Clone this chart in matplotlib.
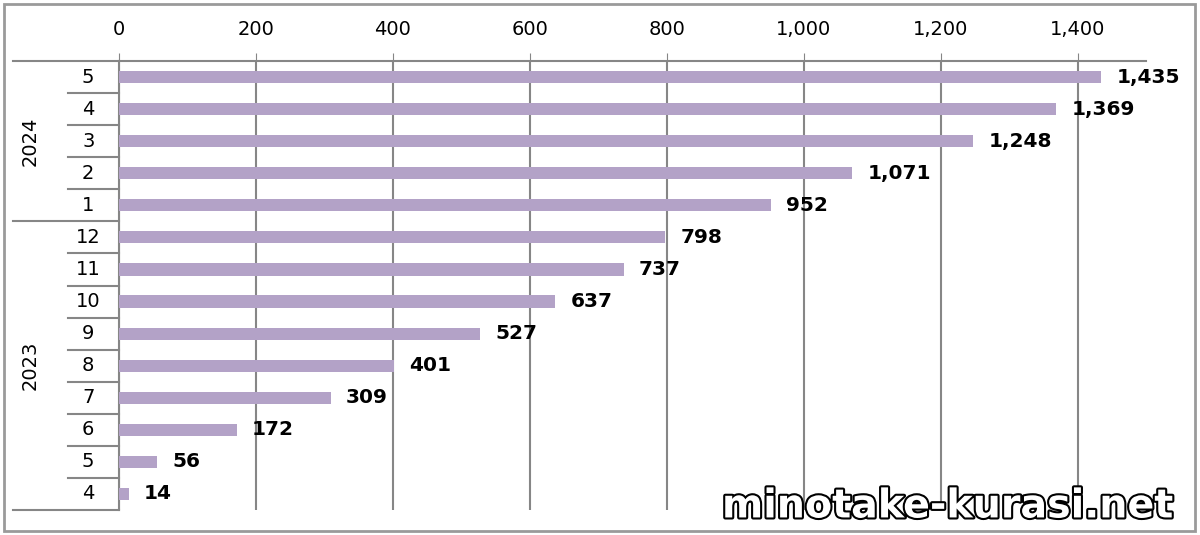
import matplotlib.pyplot as plt
import matplotlib.patheffects as pe
from matplotlib.patches import Rectangle
from matplotlib.transforms import blended_transform_factory

# monthly values, oldest first
years = ['2023', '2024']
months = [['4', '5', '6', '7', '8', '9', '10', '11', '12'],
          ['1', '2', '3', '4', '5']]
values = [14, 56, 172, 309, 401, 527, 637, 737, 798,
          952, 1071, 1248, 1369, 1435]
xticks = [0, 200, 400, 600, 800, 1000, 1200, 1400]

bar_color = '#B3A2C7'
grid_color = '#868686'

plt.rcParams['font.family'] = ['DejaVu Sans']

fig = plt.figure(figsize=(12, 5.35), dpi=100)
fig.patches.append(Rectangle((0.003, 0.008), 0.993, 0.985, transform=fig.transFigure,
                             fill=False, edgecolor='#9a9a9a', linewidth=2))

ax = fig.add_axes([0.0992, 0.0467, 0.8558, 0.8393])

labels = months[0] + months[1]
n = len(values)
pos = list(range(n))
ax.barh(pos, values, height=0.38, color=bar_color, zorder=3)

ax.set_xlim(0, 1500)
ax.set_ylim(n - 0.5, -0.5)
ax.invert_yaxis()

ax.xaxis.tick_top()
ax.set_xticks(xticks)
ax.set_xticklabels([f'{t:,}' for t in xticks], fontsize=14)
ax.tick_params(axis='x', length=6, color=grid_color, pad=10)
ax.set_yticks([])
ax.grid(axis='x', color=grid_color, linewidth=1.5, zorder=1)

for side in ['right', 'bottom']:
    ax.spines[side].set_visible(False)
for side in ['top', 'left']:
    ax.spines[side].set_color(grid_color)
    ax.spines[side].set_linewidth(1.5)

# value labels
for p, v in zip(pos, values):
    ax.annotate(f'{v:,}', (v, p), xytext=(11, 0), textcoords='offset points',
                ha='left', va='center', fontsize=14.5, fontweight='bold', zorder=4)

# category labels and separators on the left
tr = blended_transform_factory(ax.transAxes, ax.transData)
for p, lab in zip(pos, labels):
    ax.text(-0.03, p, lab, transform=tr, ha='center', va='center', fontsize=14)

split = len(months[0])
for b in range(n + 1):
    y = b - 0.5
    x0 = -0.103 if b in (0, split, n) else -0.0497
    ax.plot([x0, 0], [y, y], transform=tr, color=grid_color, linewidth=1.5,
            clip_on=False)

# year labels
ax.text(-0.087, (split - 1) / 2, years[0], transform=tr, rotation=90,
        ha='center', va='center', fontsize=14)
ax.text(-0.087, split + (n - split - 1) / 2, years[1], transform=tr, rotation=90,
        ha='center', va='center', fontsize=14)

# watermark
fig.text(0.978, 0.016, 'minotake-kurasi.net', ha='right', va='bottom', fontsize=28.5,
         color='white', fontweight='bold',
         path_effects=[pe.withStroke(linewidth=3, foreground='black')])

fig.savefig('out.png', dpi=100)
